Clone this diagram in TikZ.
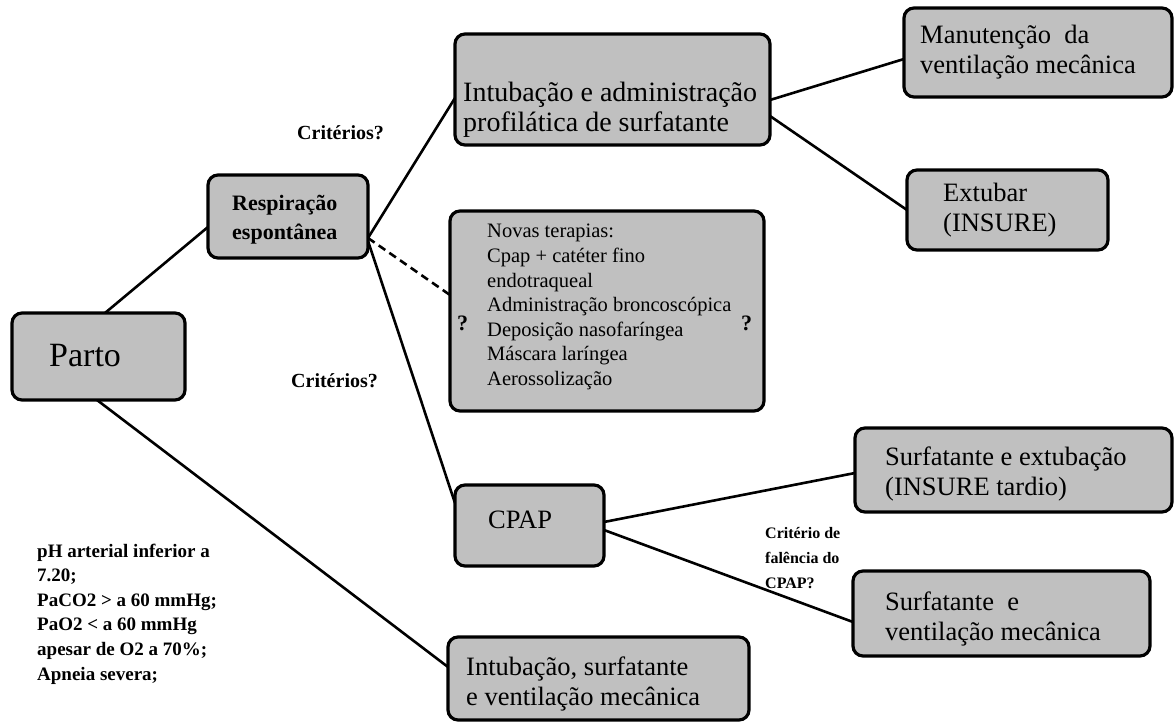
\documentclass[tikz,border=0pt]{standalone}
\usepackage{fontspec}
\setmainfont{Liberation Serif}
\newfontfamily\tnr{Liberation Serif}
\usetikzlibrary{calc,backgrounds}
\definecolor{boxgray}{HTML}{C0C0C0}
\tikzset{
  box/.style={draw, line width=3.2pt, rounded corners=10pt, fill=boxgray, inner sep=0pt, outer sep=0pt, anchor=north west},
  conn/.style={line width=2.6pt},
  txt/.style={anchor=west, align=left, inner sep=0pt},
  big/.style={font=\tnr\fontsize{26.5}{30.5}\selectfont},
}
\begin{document}
\begin{tikzpicture}[x=1pt,y=-1pt]
\useasboundingbox (0,0) rectangle (1176,725);
% boxes
\node[box, minimum width=173pt, minimum height=87pt] (parto) at (12,313) {};
\node[box, minimum width=160pt, minimum height=83pt] (resp) at (208,175) {};
\node[box, minimum width=315pt, minimum height=111pt] (intub1) at (455,34) {};
\node[box, minimum width=268pt, minimum height=89pt] (manut) at (904,8) {};
\node[box, minimum width=201pt, minimum height=80pt] (extub) at (907,170) {};
\node[box, minimum width=314pt, minimum height=200pt] (novas) at (450,211) {};
\node[box, minimum width=149pt, minimum height=81pt] (cpap) at (455,485) {};
\node[box, minimum width=317pt, minimum height=84pt] (surfex) at (855,428) {};
\node[box, minimum width=297pt, minimum height=85pt] (surfvent) at (853,571) {};
\node[box, minimum width=301pt, minimum height=83pt] (intub2) at (448,637) {};
% box texts
\node[txt, font=\tnr\fontsize{34}{40}\selectfont] (tparto) at (49,356) {Parto};
\node[txt, font=\tnr\bfseries\fontsize{22}{29}\selectfont] (tresp) at (232,220) {Respiração\\espontânea};
\node[txt, font=\tnr\fontsize{28}{30.5}\selectfont] (tintub1) at (463,110) {Intubação e administração\\profilática de surfatante};
\node[txt, big] (tmanut) at (920,52) {Manutenção~ da\\ventilação mecânica};
\node[txt, big] (textub) at (943,210) {Extubar\\(INSURE)};
\node[txt, font=\tnr\fontsize{20.5}{24.6}\selectfont] (tnovas) at (487,307) {Novas terapias:\\Cpap + catéter fino\\endotraqueal\\Administração broncoscópica\\Deposição nasofaríngea\\Máscara laríngea\\Aerossolização};
\node[txt, font=\tnr\bfseries\fontsize{22}{26}\selectfont] (q1) at (457,323) {?};
\node[txt, font=\tnr\bfseries\fontsize{22}{26}\selectfont] (q2) at (741,323) {?};
\node[txt, big] (tcpap) at (488,520) {CPAP};
\node[txt, big] (tsurfex) at (885,474) {Surfatante e extubação\\(INSURE tardio)};
\node[txt, big] (tsurfvent) at (885,619) {Surfatante~ e\\ventilação mecânica};
\node[txt, big] (tintub2) at (466,684) {Intubação, surfatante\\e ventilação mecânica};
% free labels
\node[txt, font=\tnr\bfseries\fontsize{20}{24}\selectfont] (crit1) at (297,133) {Critérios?};
\node[txt, font=\tnr\bfseries\fontsize{20}{24}\selectfont] (crit2) at (291,381) {Critérios?};
\node[txt, font=\tnr\bfseries\fontsize{16}{25}\selectfont] (critcpap) at (765,558) {Critério de\\falência do\\CPAP?};
\node[txt, font=\tnr\bfseries\fontsize{19}{24.6}\selectfont] (crits) at (37,614) {pH arterial inferior a\\7.20;\\PaCO2 > a 60 mmHg;\\PaO2 < a 60 mmHg\\apesar de O2 a 70\%;\\Apneia severa;};
% connectors
\begin{scope}[on background layer]
\draw[conn] ($(parto.north west)+(93,0)$) -- ($(resp.north west)+(0,52)$);
\draw[conn] ($(parto.south west)+(85,0)$) -- ($(intub2.north west)+(0,30)$);
\draw[conn] ($(resp.north east)+(0,63)$) -- ($(intub1.north west)+(0,64)$);
\draw[conn, dash pattern=on 8pt off 5pt] ($(resp.north east)+(0,63)$) -- ($(novas.north west)+(0,84)$);
\draw[conn] ($(resp.north east)+(0,66)$) -- ($(cpap.north west)+(0,18)$);
\draw[conn] ($(intub1.north east)+(0,66)$) -- ($(manut.north west)+(0,51)$);
\draw[conn] ($(intub1.north east)+(0,82)$) -- ($(extub.north west)+(0,40)$);
\draw[conn] ($(cpap.north east)+(0,37)$) -- ($(surfex.north west)+(0,45)$);
\draw[conn] ($(cpap.north east)+(0,45)$) -- ($(surfvent.north west)+(0,51)$);
\end{scope}
\end{tikzpicture}
\end{document}
